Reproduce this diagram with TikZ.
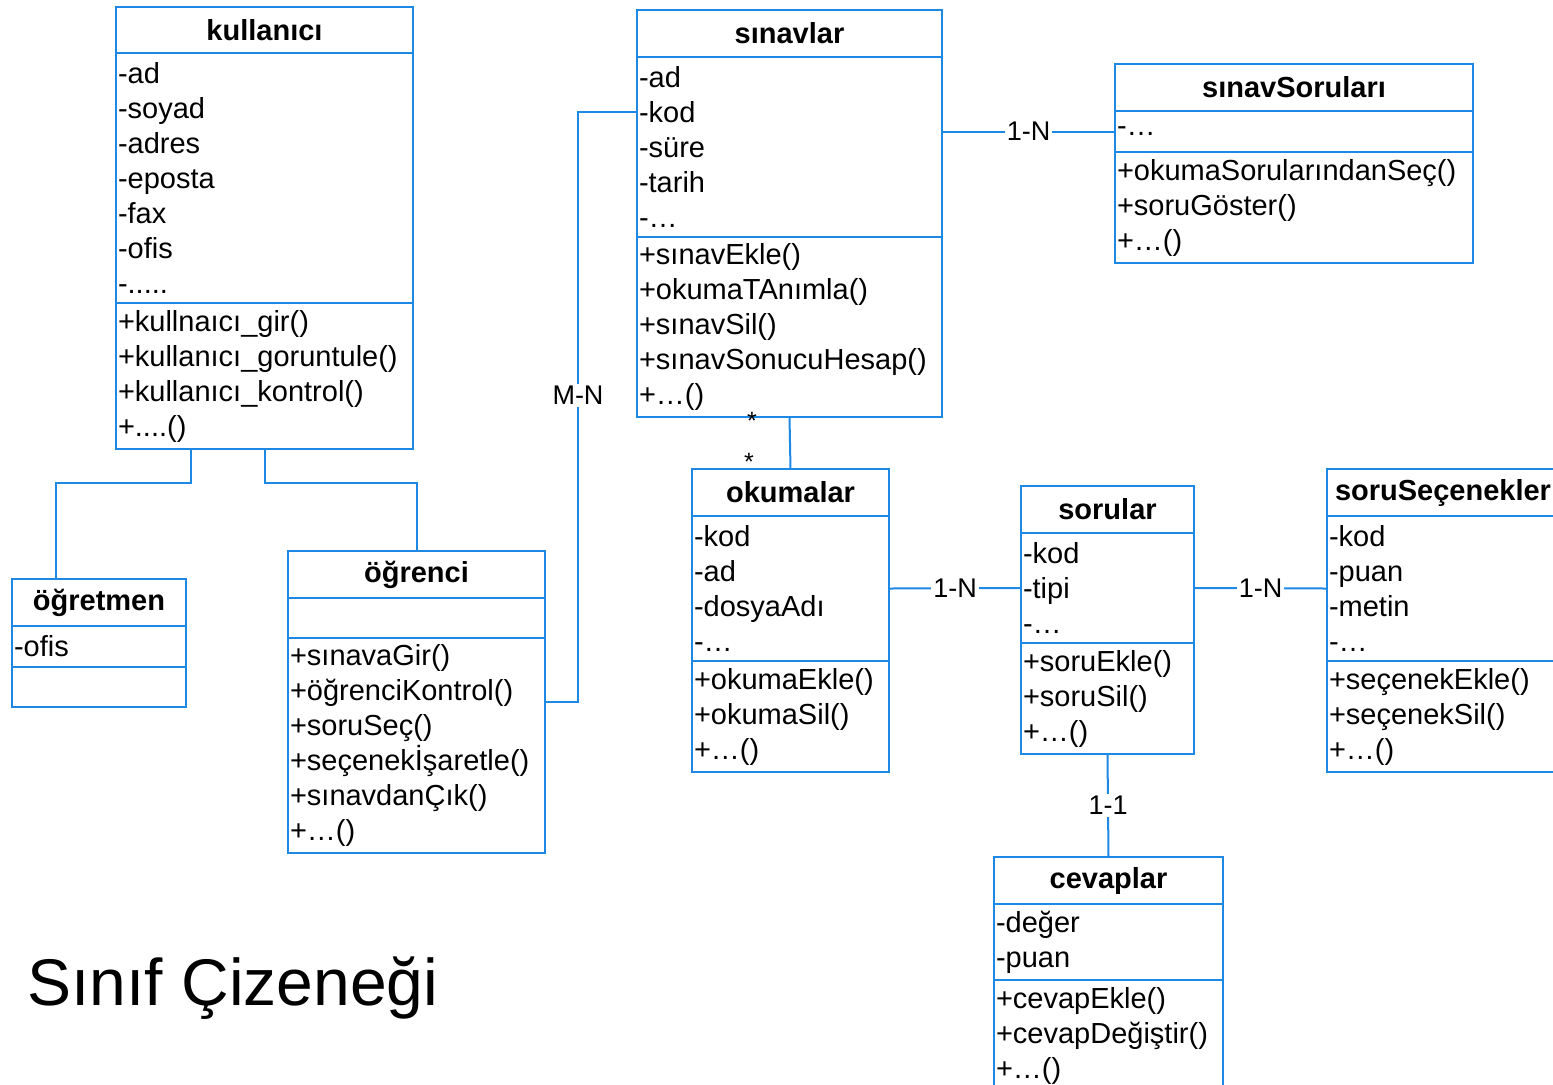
\documentclass[tikz,border=0pt]{standalone}
\usepackage{fontspec}
\setmainfont{Liberation Sans}
\usepackage{tikz}
\usetikzlibrary{positioning}

\definecolor{cizgi}{RGB}{30,136,229}

% sinif kutusu: ad, sol-ust kose, genislik, yukseklikler (px), baslik, nitelikler, yontemler
\newcommand{\sinif}[9]{%
\node[baslik,minimum width=#3*0.5pt,minimum height=#4*0.5pt,anchor=north west] (#1) at #2 {#7};
\node[kutu,below=0pt of #1,text width=#3*0.5pt-2pt,minimum height=#5*0.5pt] (#1-a) {#8};
\node[kutu,below=0pt of #1-a,text width=#3*0.5pt-2pt,minimum height=#6*0.5pt] (#1-m) {#9};
}

\begin{document}
\begin{tikzpicture}[x=0.5pt,y=-0.5pt,
baslik/.style={draw=cizgi,line width=1.2pt,outer sep=0pt,inner sep=1pt,
  font=\fontsize{14.5}{17.5}\selectfont\bfseries},
kutu/.style={draw=cizgi,line width=1.2pt,outer sep=0pt,inner xsep=1pt,inner ysep=2pt,
  align=left,font=\fontsize{14.5}{17.5}\selectfont},
bag/.style={draw=cizgi,line width=1pt},
etiket/.style={fill=white,inner sep=1pt,font=\fontsize{13.5}{15}\selectfont},
carpan/.style={inner sep=0pt,font=\fontsize{12.5}{14}\selectfont}]
\useasboundingbox (0,0) rectangle (1553,1084);
\clip (0,0) rectangle (1553,1084);

\sinif{kul}{(116,7)}{297}{46}{250}{146}{kullanıcı}
{-ad\\-soyad\\-adres\\-eposta\\-fax\\-ofis\\-.....}
{+kullnaıcı\_gir()\\+kullanıcı\_goruntule()\\+kullanıcı\_kontrol()\\+....()}
\sinif{sin}{(637,10)}{305}{47}{180}{180}{sınavlar}
{-ad\\-kod\\-süre\\-tarih\\-…}
{+sınavEkle()\\+okumaTAnımla()\\+sınavSil()\\+sınavSonucuHesap()\\+…()}
\sinif{ssr}{(1115,64)}{358}{47}{41}{111}{sınavSoruları}
{-…}
{+okumaSorularındanSeç()\\+soruGöster()\\+…()}
\sinif{ogt}{(12,579)}{174}{47}{41}{40}{öğretmen}
{-ofis}{}
\sinif{ogr}{(288,551)}{257}{47}{40}{215}{öğrenci}
{}
{+sınavaGir()\\+öğrenciKontrol()\\+soruSeç()\\+seçenekİşaretle()\\+sınavdanÇık()\\+…()}
\sinif{oku}{(692,469)}{197}{47}{145}{111}{okumalar}
{-kod\\-ad\\-dosyaAdı\\-…}
{+okumaEkle()\\+okumaSil()\\+…()}
\sinif{sor}{(1021,486)}{173}{47}{110}{111}{sorular}
{-kod\\-tipi\\-…}
{+soruEkle()\\+soruSil()\\+…()}
\sinif{sec}{(1327,469)}{232}{47}{145}{111}{soruSeçenekler}
{-kod\\-puan\\-metin\\-…}
{+seçenekEkle()\\+seçenekSil()\\+…()}
\sinif{cev}{(994,857)}{229}{47}{76}{111}{cevaplar}
{-değer\\-puan}
{+cevapEkle()\\+cevapDeğiştir()\\+…()}

% kalitim
\draw[bag] ([xshift=-37pt]kul-m.south) -- ++(0,34) -| ([xshift=-21.5pt]ogt.north);
\draw[bag] (kul-m.south) -- ++(0,34) -| (ogr.north);
% iliskiler
\draw[bag] ([yshift=21.75pt]ogr-m.east) -- ++(33,0)
  |- node[etiket,pos=0.26]{M-N} ([yshift=17.5pt]sin-a.west);
\draw[bag] (sin-a.east |- ssr-a.west) -- node[etiket]{1-N} (ssr-a.west);
\draw[bag] (sin-m.south) -- (oku.north);
\node[carpan] (c1) at (752,421) {*};
\node[carpan] (c2) at (749,462) {*};
\draw[bag] (oku-a.east) -- node[etiket]{1-N} (sor-a.west);
\draw[bag] (sor-a.east) -- node[etiket]{1-N} (sec-a.west);
\draw[bag] (sor-m.south) -- node[etiket]{1-1} (cev.north);

\node[anchor=base west,inner sep=0pt,font=\fontsize{33}{40}\selectfont] (cizenek) at (27,1005) {Sınıf Çizeneği};
\end{tikzpicture}
\end{document}
